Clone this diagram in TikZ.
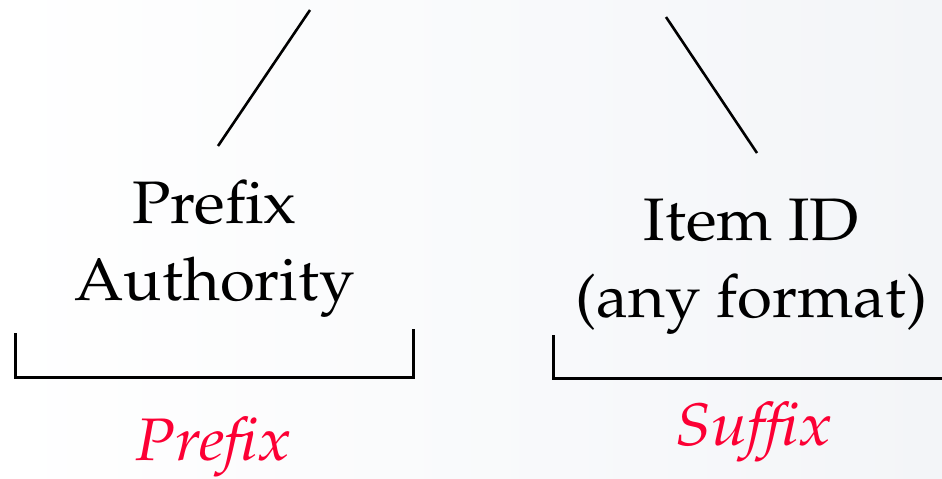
\documentclass[tikz,border=0pt]{standalone}
\usepackage[T1]{fontenc}
\usepackage{mathpazo}
\definecolor{lblred}{RGB}{252,0,52}
\definecolor{bgr}{RGB}{243,245,248}
\newcommand{\mywide}[1]{\scalebox{1.06}[1]{#1}}
\newcommand{\mywider}[1]{\scalebox{1.08}[1]{#1}}
\tikzset{
  big/.style={font=\fontsize{60}{76.5}\selectfont, inner sep=0pt, align=center},
  lbl/.style={font=\fontsize{60}{77}\selectfont\itshape, text=lblred, inner sep=0pt},
  stroke/.style={line width=2.6pt, black},
  brk/.style={line width=3pt, black}
}
\begin{document}
\begin{tikzpicture}[x=1pt,y=-1pt]
  \useasboundingbox (0,0) rectangle (942,479);
  \shade[left color=white, right color=bgr] (0,0) rectangle (942,479);
  % texts
  \node[big, anchor=base] (pa) at (214.5,300) {\mywide{Prefix}\\\mywide{Authority}};
  \node[big, anchor=base] (iid) at (751.5,317) {\mywide{Item ID}\\\mywide{(any format)}};
  \node[lbl, anchor=base] (pl) at (213.5,460) {\mywider{Prefix}};
  \node[lbl, anchor=base] (sl) at (754,445) {\mywider{Suffix}};
  % slanted lines
  \coordinate (la) at (310,10);
  \coordinate (lb) at (218,146);
  \coordinate (ra) at (666,17);
  \coordinate (rb) at (757,153);
  \draw[stroke] (la) -- (lb);
  \draw[stroke] (ra) -- (rb);
  % brackets
  \coordinate (b1) at (15,333);
  \coordinate (b2) at (15,377);
  \coordinate (b3) at (413,377);
  \coordinate (b4) at (413,329);
  \draw[brk] (b1) -- (b2) -- (b3) -- (b4);
  \coordinate (c1) at (553,335);
  \coordinate (c2) at (553,378);
  \coordinate (c3) at (942,378);
  \draw[brk] (c1) -- (c2) -- (c3);
\end{tikzpicture}
\end{document}
